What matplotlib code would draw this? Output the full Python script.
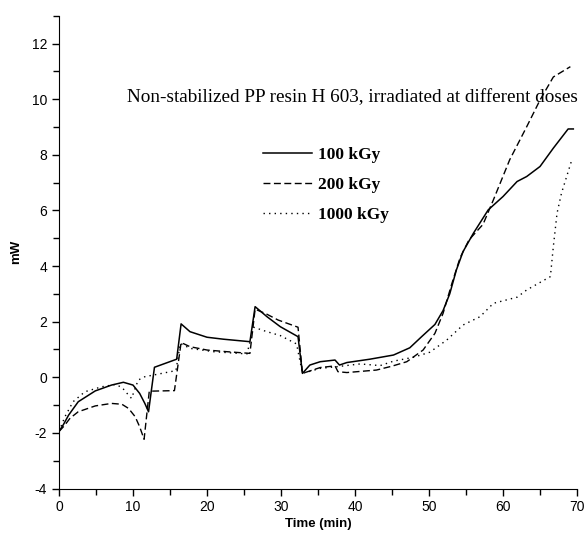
import numpy as np
import matplotlib
matplotlib.use("Agg")
import matplotlib.pyplot as plt
from matplotlib.ticker import MultipleLocator

plt.rcParams["axes.unicode_minus"] = False

# 100 kGy (solid)
t_100 = [0, 0.6, 1.3, 2.6, 4.9, 7.1, 8.7, 10.0, 10.9, 11.6, 12.1, 12.9, 15.9, 16.5,
         17.7, 20.0, 22.2, 25.8, 26.5, 28.1, 29.9, 32.3, 32.9, 33.9, 35.3, 37.3, 37.9,
         38.9, 42.0, 45.2, 47.4, 49.0, 50.8, 51.9, 52.8, 53.7, 54.6, 56.0, 58.0, 60.0,
         61.9, 63.2, 65.0, 66.8, 68.8, 69.5]
p_100 = [-1.95, -1.7, -1.36, -0.88, -0.49, -0.28, -0.18, -0.28, -0.58, -0.94, -1.24, 0.36,
         0.65, 1.92, 1.64, 1.44, 1.37, 1.28, 2.54, 2.18, 1.82, 1.46, 0.14, 0.44, 0.56, 0.62,
         0.44, 0.53, 0.65, 0.8, 1.06, 1.46, 1.9, 2.4, 3.0, 3.86, 4.52, 5.18, 6.02, 6.5,
         7.04, 7.22, 7.58, 8.24, 8.93, 8.93]

# 200 kGy (dashed)
t_200 = [0, 0.7, 1.5, 2.6, 4.9, 7.1, 8.5, 9.4, 10.3, 10.9, 11.5, 12.2, 15.6, 16.5, 17.7,
         20.0, 22.7, 25.8, 26.5, 28.0, 29.6, 32.3, 32.9, 35.3, 37.3, 37.7, 38.9, 42.9,
         45.0, 47.0, 49.2, 50.8, 51.9, 53.1, 54.2, 55.4, 57.3, 58.7, 60.9, 63.2, 65.0,
         66.8, 69.1]
p_200 = [-1.95, -1.75, -1.47, -1.24, -1.03, -0.94, -0.97, -1.12, -1.42, -1.78, -2.23, -0.5,
         -0.48, 1.25, 1.1, 0.98, 0.92, 0.86, 2.45, 2.28, 2.06, 1.8, 0.14, 0.35, 0.41, 0.2,
         0.17, 0.26, 0.4, 0.56, 0.98, 1.58, 2.3, 3.38, 4.3, 4.94, 5.5, 6.38, 7.82, 9.01,
         9.97, 10.8, 11.17]

# 1000 kGy (dotted)
t_1000 = [0, 0.8, 1.9, 3.5, 5.8, 7.6, 8.5, 9.1, 9.8, 10.7, 11.6, 13.9, 15.8, 16.4, 17.7,
          20.9, 25.4, 26.3, 28.1, 29.9, 32.1, 32.9, 35.3, 37.5, 40.7, 43.4, 45.2, 47.9,
          50.1, 52.4, 54.6, 56.9, 58.7, 61.9, 63.2, 66.4, 66.8, 67.3, 67.9, 68.6, 69.3]
p_1000 = [-1.95, -1.42, -0.88, -0.52, -0.34, -0.26, -0.36, -0.55, -0.76, -0.1, 0.02, 0.14,
          0.24, 1.22, 1.04, 0.92, 0.84, 1.8, 1.64, 1.5, 1.2, 0.14, 0.32, 0.38, 0.48, 0.42,
          0.58, 0.72, 0.9, 1.34, 1.88, 2.18, 2.66, 2.88, 3.14, 3.62, 4.7, 5.9, 6.62, 7.22,
          7.82]

labels = ["100 kGy", "200 kGy", "1000 kGy"]
note = "Non-stabilized PP resin H 603, irradiated at different doses"

fig = plt.figure(figsize=(5.87, 5.5), dpi=100)
ax = fig.add_axes([0.1005, 0.1118, 0.8825, 0.8595])

ax.plot(t_100, p_100, color="black", lw=1.1, ls="-", label=labels[0])
ax.plot(t_200, p_200, color="black", lw=1.0, ls=(0, (5, 2.5)), label=labels[1])
ax.plot(t_1000, p_1000, color="black", lw=1.0, ls=(0, (1, 3)), label=labels[2])

ax.set_xlim(0, 70)
ax.set_ylim(-4, 13)
ax.spines["top"].set_visible(False)
ax.spines["right"].set_visible(False)
ax.spines["left"].set_bounds(-4, 13)
ax.xaxis.set_major_locator(MultipleLocator(10))
ax.xaxis.set_minor_locator(MultipleLocator(5))
ax.yaxis.set_major_locator(MultipleLocator(2))
ax.yaxis.set_minor_locator(MultipleLocator(1))
ax.set_yticks(np.arange(-4, 13, 2))
ax.tick_params(which="major", direction="out", length=5, width=1, labelsize=10)
ax.tick_params(which="minor", direction="out", length=4, width=1)
for lab in ax.get_xticklabels() + ax.get_yticklabels():
    lab.set_family("Liberation Sans")

ax.set_xlabel("Time (min)", family="Liberation Sans", fontweight="bold", fontsize=9.5, labelpad=3)
ax.set_ylabel("mW", family="Liberation Sans", fontweight="bold", fontsize=9.5, labelpad=7)

ax.text(9.2, 10.05, note, family="Liberation Serif", fontsize=13.8, va="center", ha="left")

ax.legend(loc="upper left", bbox_to_anchor=(0.394, 0.722), frameon=False,
          prop={"family": "Liberation Serif", "weight": "bold", "size": 12.5},
          handlelength=2.8, handletextpad=0.35, labelspacing=0.78,
          borderpad=0, borderaxespad=0)

fig.savefig("out.png", dpi=100)
